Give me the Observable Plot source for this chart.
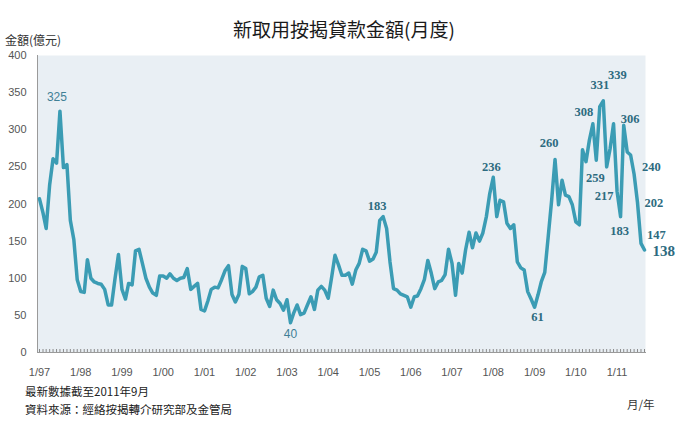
<!DOCTYPE html>
<html><head><meta charset="utf-8">
<script src="https://cdn.jsdelivr.net/npm/d3@7"></script>
<script src="https://cdn.jsdelivr.net/npm/@observablehq/plot@0.6"></script>
<style>
body{margin:0;background:#fff;}
#wrap{position:relative;width:688px;height:421px;overflow:hidden;font-family:"Noto Sans CJK TC","Liberation Sans",sans-serif;}
#title{position:absolute;left:0;width:688px;top:15px;text-align:center;font-size:19px;color:#1a1a1a;}
#unit{position:absolute;left:5px;top:31px;font-size:12px;color:#333;}
#chart{position:absolute;left:0;top:45px;}
#note{position:absolute;left:25px;top:382px;font-size:11.5px;line-height:18px;color:#222;}
#xunit{position:absolute;left:627px;top:396px;font-size:11.5px;color:#333;}
</style></head>
<body><div id="wrap">
<div id="title">新取用按揭貸款金額(月度)</div>
<div id="unit">金額(億元)</div>
<div id="chart"></div>
<div id="note">最新數據截至2011年9月<br>資料來源：經絡按揭轉介研究部及金管局</div>
<div id="xunit">月/年</div>
</div>
<script>
// Monthly new mortgage loans drawn, Jan 1997 – Sep 2011 (HK$100m)
const startYear = 1997;
const amounts = [
  207,188,167,226,261,255,325,249,253,178,152,98,
  82,81,125,100,95,93,92,85,64,64,100,132,
  85,72,93,91,137,139,120,100,88,80,77,103,
  103,100,106,100,97,100,101,113,85,89,93,58,
  56,70,85,88,87,98,110,117,78,68,78,116,
  113,79,82,88,102,104,73,62,84,71,66,57,
  71,40,53,64,51,53,64,75,58,84,89,84,
  73,102,131,118,104,104,107,92,111,120,139,137,
  123,126,135,178,183,167,122,86,84,79,77,75,
  61,75,76,86,98,124,107,86,95,97,105,139,
  120,77,120,107,138,162,141,161,150,161,183,214,
  236,183,205,203,174,167,172,122,114,111,82,72,
  61,78,95,108,155,205,260,199,232,212,210,199,
  176,172,273,257,286,308,259,331,339,250,275,308,
  217,183,306,270,266,240,202,147,138
];
const xTickLabels = ["1/97","1/98","1/99","1/00","1/01","1/02","1/03","1/04","1/05","1/06","1/07","1/08","1/09","1/10","1/11"];
const yTicks = [0,50,100,150,200,250,300,350,400];
// annotated months (index into amounts)
const labelIndex = [6,73,100,132,144,150,161,162,163,164,168,169,170,173,174,175,176];

// label offsets / styles (presentation only)
const labelStyle = {
  6:{dx:-3,dy:-14,sans:true}, 73:{dx:0,dy:11,sans:true}, 100:{dx:-6,dy:-11},
  132:{dx:-2,dy:-10}, 144:{dx:3,dy:10}, 150:{dx:-6,dy:-16}, 161:{dx:-9,dy:-12},
  162:{dx:-1,dy:18}, 163:{dx:0,dy:-22}, 164:{dx:14,dy:-26}, 168:{dx:-13,dy:5},
  169:{dx:-1,dy:14}, 170:{dx:-3,dy:-6,anchor:"start"}, 173:{dx:8,dy:-7,anchor:"start"},
  174:{dx:7,dy:0,anchor:"start"}, 175:{dx:6,dy:-8,anchor:"start"}, 176:{dx:8,dy:1,anchor:"start",size:15}
};

const data = amounts.map((v,i)=>({date:new Date(Date.UTC(startYear,i,1)), value:v}));
const yearDates = xTickLabels.map((_,k)=>new Date(Date.UTC(startYear+k,0,1)));
const fmtYear = d => xTickLabels[d.getUTCFullYear()-startYear];

const labelMarks = labelIndex.map(i=>{
  const s = labelStyle[i] || {dx:0,dy:-10};
  return Plot.text([data[i]], {
    x:"date", y:"value", text:d=>String(d.value),
    dx:s.dx, dy:s.dy, textAnchor:s.anchor||"middle",
    fill: s.sans ? "#3f8096" : "#2d6b80",
    fontFamily: s.sans ? "Liberation Sans, sans-serif" : "Liberation Serif, DejaVu Serif, serif",
    fontWeight: s.sans ? "normal" : "bold",
    fontSize: s.size || (s.sans ? 12 : 12.5)
  });
});

const chart = Plot.plot({
  width:688, height:340,
  marginTop:10, marginBottom:33, marginLeft:37, marginRight:43,
  x:{type:"utc", domain:[data[0].date, data[data.length-1].date], insetLeft:2, insetRight:1, label:null},
  y:{domain:[0,400], label:null},
  style:{fontFamily:"Liberation Sans, sans-serif", fontSize:"11px", color:"#555", background:"transparent", overflow:"visible"},
  marks:[
    Plot.frame({fill:"#e9eff4", stroke:null}),
    Plot.frame({anchor:"left", stroke:"#9a9a9a"}),
    Plot.frame({anchor:"bottom", stroke:"#9a9a9a"}),
    Plot.axisY({ticks:yTicks, tickSize:0, tickPadding:11, fill:"#555", label:null}),
    Plot.axisX({ticks:data.map(d=>d.date), tickSize:-3, tickFormat:()=>"", stroke:"#8a8a8a", label:null}),
    Plot.axisX({ticks:yearDates, tickFormat:fmtYear, tickSize:0, tickPadding:16, fill:"#555", label:null}),
    Plot.line(data, {x:"date", y:"value", stroke:"#3b9cb4", strokeWidth:3.5, strokeLinejoin:"round", strokeLinecap:"round"}),
    ...labelMarks
  ]
});
document.getElementById("chart").appendChild(chart);
</script>
</body></html>
